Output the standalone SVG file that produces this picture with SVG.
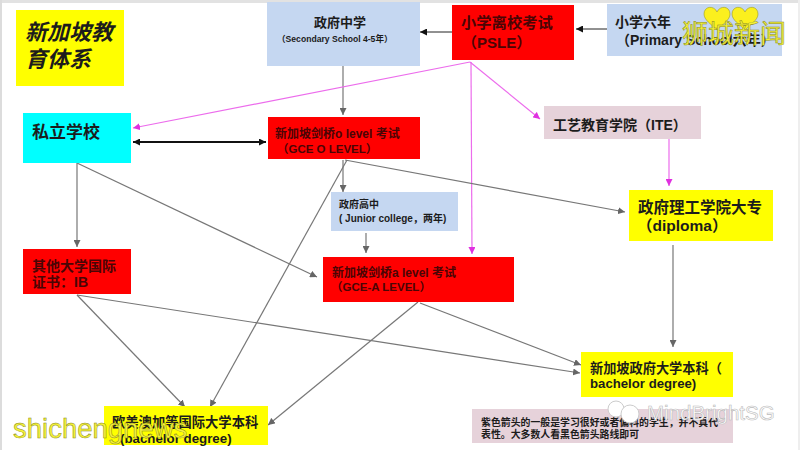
<svg xmlns="http://www.w3.org/2000/svg" width="800" height="450" viewBox="0 0 800 450">
<style>
text{font-family:"Liberation Sans","Noto Sans CJK SC",sans-serif;font-weight:bold;fill:#1c1c1c}
.k{stroke:#777;stroke-width:1.2;fill:none;marker-end:url(#g)}
.b{stroke:#222;stroke-width:1;fill:none;marker-end:url(#b)}
.m{stroke:#ec6cec;stroke-width:1.2;fill:none;marker-end:url(#m)}
.red{fill:#f00}.blue{fill:#c5d7f1}.yel{fill:#ff0}.pink{fill:#e6d2da}
.rt{fill:#4a0505}
.wm{fill:#f5f23a;stroke:#8a8a20;stroke-width:.5;font-weight:normal}
</style>
<defs>
<marker id="g" markerWidth="7" markerHeight="7" refX="7" refY="3.5" orient="auto" markerUnits="userSpaceOnUse"><path d="M0 0L7 3.5L0 7z" fill="#666"/></marker>
<marker id="b" markerWidth="7" markerHeight="7" refX="7" refY="3.5" orient="auto" markerUnits="userSpaceOnUse"><path d="M0 0L7 3.5L0 7z" fill="#111"/></marker>
<marker id="m" markerWidth="7" markerHeight="7" refX="7" refY="3.5" orient="auto" markerUnits="userSpaceOnUse"><path d="M0 0L7 3.5L0 7z" fill="#e030e0"/></marker>
<marker id="bs" markerWidth="7" markerHeight="7" refX="0" refY="3.5" orient="auto" markerUnits="userSpaceOnUse"><path d="M7 0L0 3.5L7 7z" fill="#111"/></marker>
<path id="heart" d="M0 23C-6 17-13 13-13 7C-13-1-3-2 0 5C3-2 13-1 13 7C13 13 6 17 0 23z" fill="#fbf01e" stroke="#9a9a20" stroke-width=".6"/>
</defs>
<rect width="800" height="450" fill="#fff"/>
<rect x="0" y="0" width="800" height="3" fill="#e2e2e2"/>
<rect x="0" y="0" width="2" height="450" fill="#dcdcdc"/>
<rect x="798" y="0" width="2" height="450" fill="#eee"/>
<g id="connectors">
<path class="b" d="M452 32H420"/>
<path class="b" d="M607 29H576"/>
<path class="k" d="M343 66V115"/>
<path class="m" d="M470 62L133 128"/>
<path class="m" d="M470 62L540 119"/>
<path class="m" d="M471 62L472 254"/>
<path class="m" d="M669 139V186"/>
<path d="M133 142H266" stroke="#111" stroke-width="2" fill="none" marker-start="url(#bs)" marker-end="url(#b)"/>
<path class="k" d="M77 163V247"/>
<path class="k" d="M77 163L317 277"/>
<path class="k" d="M343 160V192"/>
<path class="k" d="M347 160L210 407"/>
<path class="k" d="M345 160L625 212"/>
<path class="k" d="M366 233V253"/>
<path class="k" d="M673 245V347"/>
<path class="k" d="M77 295L185 407"/>
<path class="k" d="M77 295L580 373"/>
<path class="k" d="M418 302L268 425"/>
<path class="k" d="M420 303L581 365"/>
</g>
<g id="title"><rect class="yel" x="16" y="10" width="108" height="76"/>
<text x="25" y="40" font-size="22" font-style="italic">新加坡教</text><text x="25" y="67" font-size="22" font-style="italic">育体系</text></g>
<g id="secondary"><rect class="blue" x="267" y="2" width="153" height="64"/>
<text x="314" y="27" font-size="13">政府中学</text><text x="277" y="42" font-size="8.6">（Secondary School 4-5年）</text></g>
<g id="psle"><rect class="red" x="452" y="5" width="122" height="55"/>
<text class="rt" x="461" y="28" font-size="15.3">小学离校考试</text><text class="rt" x="462" y="48" font-size="15">（PSLE）</text></g>
<g id="primary"><rect class="blue" x="607" y="4" width="175" height="52"/>
<text x="615" y="27" font-size="14">小学六年</text><text x="616" y="45" font-size="14">（Primary School六年）</text></g>
<g id="private"><rect x="23" y="113" width="108" height="50" fill="#0ff"/><text x="32" y="138" font-size="17">私立学校</text></g>
<g id="olevel"><rect class="red" x="268" y="117" width="152" height="42"/>
<text class="rt" x="275" y="138" font-size="12">新加坡剑桥o level 考试</text><text class="rt" x="277" y="153" font-size="11.5">（GCE O LEVEL）</text></g>
<g id="ite"><rect class="pink" x="544" y="106" width="157" height="33"/><text x="553" y="130" font-size="14">工艺教育学院（ITE）</text></g>
<g id="junior"><rect class="blue" x="331" y="192" width="127" height="39"/>
<text x="339" y="208" font-size="10">政府高中</text><text x="339" y="222" font-size="10">( Junior college，两年)</text></g>
<g id="diploma"><rect class="yel" x="629" y="190" width="144" height="51"/>
<text x="638" y="213" font-size="15.5">政府理工学院大专</text><text x="637" y="231" font-size="15.5">（diploma）</text></g>
<g id="ib"><rect class="red" x="23" y="249" width="108" height="45"/>
<text class="rt" x="32" y="271" font-size="14">其他大学国际</text><text class="rt" x="32" y="287" font-size="14">证书：IB</text></g>
<g id="alevel"><rect class="red" x="323" y="257" width="191" height="45"/>
<text class="rt" x="332" y="277" font-size="12">新加坡剑桥a level 考试</text><text class="rt" x="331" y="291" font-size="11.5">（GCE-A LEVEL）</text></g>
<g id="sgdegree"><rect class="yel" x="581" y="352" width="152" height="45"/>
<text x="590" y="373" font-size="13.2">新加坡政府大学本科（</text><text x="590" y="388" font-size="13.2">bachelor degree)</text></g>
<g id="intldegree"><rect class="yel" x="104" y="406" width="164" height="39"/>
<text x="112" y="427" font-size="13.3">欧美澳加等国际大学本科</text><text x="120" y="443" font-size="13.3">(bachelor degree)</text></g>
<g id="note"><rect class="pink" x="472" y="409" width="261" height="34"/>
<text x="481" y="426" font-size="9.9">紫色箭头的一般是学习很好或者偏科的学生，并不真代</text><text x="481" y="438" font-size="9.9">表性。大多数人看黑色箭头路线即可</text></g>
<g id="watermarks">
<use href="#heart" x="717" y="7"/>
<use href="#heart" x="745" y="7"/>
<text class="wm" x="682" y="43" font-size="26">狮城新闻</text>
<text class="wm" x="13" y="438" font-size="27.5">shichengnews</text>
<circle cx="616" cy="409" r="8" fill="#fff" stroke="#ccc"/>
<circle cx="630" cy="414" r="9" fill="#fff" stroke="#ccc"/>
<text x="647" y="420" font-size="20.5" style="font-weight:normal;fill:#fff;stroke:#bbb;stroke-width:.6">MindBrightSG</text>
</g>
</svg>
